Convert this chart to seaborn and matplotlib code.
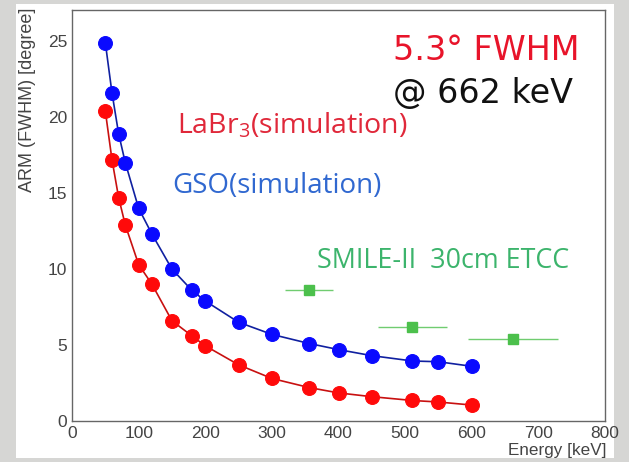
import matplotlib
matplotlib.use("Agg")
import matplotlib.pyplot as plt
import seaborn as sns
import pandas as pd
from matplotlib.patches import Rectangle
from matplotlib.ticker import MultipleLocator

# ---- data ----
labr_energy = [50, 60, 70, 80, 100, 120, 150, 180, 200, 250, 300, 356, 400, 450, 511, 550, 600]
labr_arm = [20.4, 17.2, 14.7, 12.9, 10.3, 9.0, 6.6, 5.6, 4.95, 3.7, 2.8, 2.2, 1.85, 1.6, 1.35, 1.25, 1.05]
gso_energy = [50, 60, 70, 80, 100, 120, 150, 180, 200, 250, 300, 356, 400, 450, 511, 550, 600]
gso_arm = [24.9, 21.6, 18.9, 17.0, 14.0, 12.3, 10.0, 8.6, 7.9, 6.5, 5.7, 5.1, 4.7, 4.3, 3.95, 3.9, 3.6]
etcc_energy = [356, 511, 662]
etcc_arm = [8.6, 6.2, 5.4]
etcc_xerr = [36, 52, 67]

labr = pd.DataFrame({"Energy": labr_energy, "ARM": labr_arm})
gso = pd.DataFrame({"Energy": gso_energy, "ARM": gso_arm})

sns.set_theme(style="white")
plt.rcParams['font.family'] = ['Liberation Sans', 'DejaVu Sans']
plt.rcParams['mathtext.fontset'] = 'custom'
plt.rcParams['mathtext.rm'] = 'Open Sans'

W, H = 629, 462
fig = plt.figure(figsize=(W / 100, H / 100), dpi=100)
fig.patch.set_facecolor('#d6d6d4')
fig.add_artist(Rectangle((16 / W, 4 / H), (614 - 16) / W, (458 - 4) / H,
                         transform=fig.transFigure, facecolor='white', edgecolor='none', zorder=0))

ax = fig.add_axes([72 / W, 41 / H, (605 - 72) / W, (421 - 10) / H])
ax.set_facecolor('white')

sns.lineplot(data=labr, x="Energy", y="ARM", ax=ax, color='#c81010', lw=1.2,
             marker='o', markersize=10, markerfacecolor='#ff0a0a', markeredgecolor='#ff0a0a',
             estimator=None, sort=False, zorder=3)
sns.lineplot(data=gso, x="Energy", y="ARM", ax=ax, color='#1020a0', lw=1.2,
             marker='o', markersize=10, markerfacecolor='#0a0aff', markeredgecolor='#0a0aff',
             estimator=None, sort=False, zorder=3)
ax.errorbar(etcc_energy, etcc_arm, xerr=etcc_xerr, fmt='s', color='#4cc04c',
            ecolor='#70cc70', markersize=7, elinewidth=1.0, capsize=0, zorder=3)

ax.set_xlim(0, 800)
ax.set_ylim(0, 27.05)
ax.xaxis.set_major_locator(MultipleLocator(100))
ax.xaxis.set_minor_locator(MultipleLocator(20))
ax.yaxis.set_major_locator(MultipleLocator(5))
ax.yaxis.set_minor_locator(MultipleLocator(1))
ax.tick_params(which='both', direction='in', top=False, right=False,
               colors='#555555', labelcolor='#444444')
ax.tick_params(which='major', length=9, width=1, labelsize=12.5)
ax.tick_params(which='minor', length=5, width=1)
for s in ax.spines.values():
    s.set_color('#666666')
    s.set_linewidth(1.0)

ax.set_xlabel('')
ax.set_ylabel('')
fig.text(606 / W, 1 - 451 / H, 'Energy [keV]', ha='right', va='center',
         fontsize=12.3, color='#444444')
fig.text(28 / W, 1 - 8 / H, 'ARM (FWHM) [degree]', ha='center', va='top',
         rotation=90, fontsize=13, color='#444444')

fig.text(393 / W, 1 - 60 / H, '5.3° FWHM', ha='left', va='baseline',
         fontsize=24, color='#e8142a', family=['DejaVu Sans'])
fig.text(393 / W, 1 - 103 / H, '@ 662 keV', ha='left', va='baseline',
         fontsize=24, color='#111111', family=['DejaVu Sans'])
fig.text(177 / W, 1 - 133 / H, 'LaBr$_3$(simulation)', ha='left', va='baseline',
         fontsize=20.5, color='#e0283a', family=['Open Sans', 'DejaVu Sans'])
fig.text(172 / W, 1 - 193 / H, 'GSO(simulation)', ha='left', va='baseline',
         fontsize=20, color='#3068d0', family=['Open Sans', 'DejaVu Sans'])
fig.text(317 / W, 1 - 268 / H, 'SMILE-II  30cm ETCC', ha='left', va='baseline',
         fontsize=19.4, color='#3cb46c', family=['Open Sans', 'DejaVu Sans'])

fig.savefig('out.png', dpi=100, facecolor=fig.get_facecolor())
